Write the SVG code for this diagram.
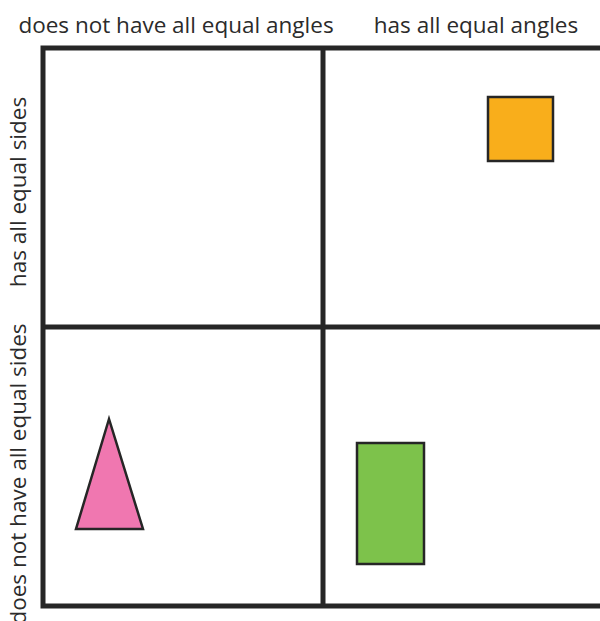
<svg xmlns="http://www.w3.org/2000/svg" width="600" height="621" viewBox="0 0 600 621">
<style>
.lbl{font-family:"Open Sans","Liberation Sans",sans-serif;font-size:22.5px;fill:#2b2b2b;text-anchor:middle}
.grid{stroke:#262626;stroke-width:5;fill:none}
.shape{stroke:#262626;stroke-width:2.5}
</style>
<rect width="600" height="621" fill="#ffffff"/>
<g id="labels">
<text class="lbl" x="176" y="33">does not have all equal angles</text>
<text class="lbl" x="476" y="33">has all equal angles</text>
<text class="lbl" transform="translate(26,192) rotate(-90)">has all equal sides</text>
<text class="lbl" transform="translate(26,474) rotate(-90)">does not have all equal sides</text>
</g>
<g id="connectors">
<path class="grid" d="M600 48 H43 V606 H600"/>
<path class="grid" d="M323 46 V606"/>
<path class="grid" d="M43 327 H600"/>
</g>
<g id="square"><rect class="shape" x="488" y="97" width="65" height="64" fill="#F9AE1B"/></g>
<g id="triangle"><polygon class="shape" points="109,419 76,529 143,529" fill="#F077B0"/></g>
<g id="rectangle"><rect class="shape" x="357" y="443" width="67" height="121" fill="#7DC24B"/></g>
</svg>
